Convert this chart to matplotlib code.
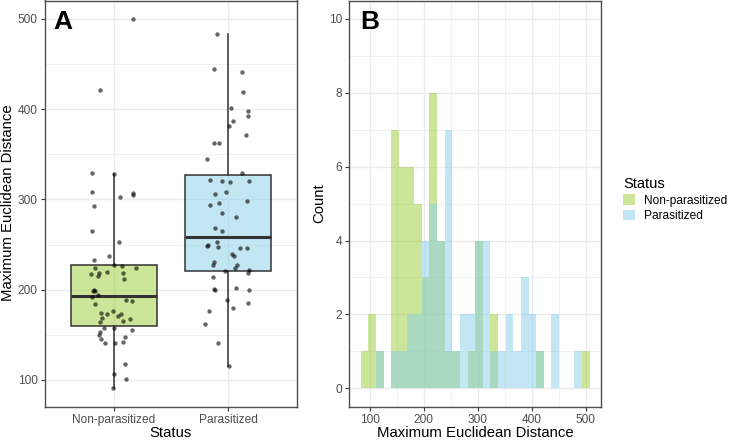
import numpy as np
import matplotlib
matplotlib.use("Agg")
import matplotlib.pyplot as plt
from matplotlib.patches import Patch
from matplotlib.ticker import MultipleLocator

plt.rcParams['font.family'] = ['Liberation Sans', 'DejaVu Sans']

# ---------------- data ----------------
categories = ["Non-parasitized", "Parasitized"]

nonpar_values = [500, 420.8, 329.8, 328.7, 308.1, 302.2, 306.6, 305.2, 292.3, 265.0,
                 252.5, 237.3, 233.3, 227.4, 226.7, 224.0, 224.0, 217.0, 218.9, 219.6,
                 214.9, 218.6, 211.5, 199.8, 198.2, 199.0, 191.7, 193.5, 188.7, 187.6,
                 184.6, 176.6, 173.6, 172.5, 172.9, 170.7, 168.5, 167.4, 164.4, 165.2,
                 157.5, 157.5, 154.8, 153.1, 149.7, 147.8, 145.3, 142.3, 140.9, 140.9,
                 117.2, 106.2, 101.4, 90.7]
nonpar_jitter = [0.166, -0.122, -0.19, 0.0, -0.192, 0.058, 0.166, 0.166, -0.172, -0.19,
                 0.05, -0.044, -0.172, 0.006, 0.07, -0.163, 0.195, -0.195, -0.131, -0.061,
                 -0.14, 0.085, 0.093, -0.175, -0.184, -0.165, -0.192, -0.137, 0.105, 0.157,
                 -0.163, -0.003, -0.114, -0.055, 0.067, 0.041, -0.099, 0.146, -0.12, 0.082,
                 -0.087, 0.0, 0.16, -0.12, -0.131, 0.096, -0.108, 0.079, -0.073, 0.012,
                 0.102, 0.006, 0.111, -0.006]

par_values = [483.4, 444.4, 441.4, 418.6, 401.3, 398.3, 392.4, 387.3, 381.0, 371.4,
              362.9, 362.2, 344.5, 329.8, 321.0, 320.6, 319.1, 320.2, 308.4, 305.9,
              297.7, 293.7, 296.5, 285.2, 280.1, 268.0, 265.3, 249.9, 248.4, 252.4,
              247.6, 246.6, 245.8, 239.2, 237.0, 230.4, 227.4, 227.1, 223.5, 222.3,
              217.9, 220.1, 214.1, 200.5, 200.1, 202.0, 199.8, 188.0, 185.4, 179.2,
              176.6, 161.5, 140.9, 115.8]
par_jitter = [-0.093, -0.122, 0.125, 0.128, 0.029, 0.172, 0.175, 0.047, 0.006, 0.155,
              -0.082, -0.125, -0.184, 0.122, -0.155, -0.052, 0.017, 0.181, -0.015, -0.117,
              0.163, -0.155, -0.079, -0.055, 0.067, -0.117, -0.052, -0.178, -0.184, -0.096,
              -0.087, 0.105, 0.166, 0.038, 0.052, -0.125, -0.134, 0.076, 0.061, 0.187,
              0.178, -0.023, -0.131, -0.125, -0.114, 0.073, 0.181, -0.006, 0.172, 0.044,
              -0.166, -0.198, -0.085, 0.009]

n_bins = 30
green = "#9ACD32"
blue = "#87CEEB"
alpha = 0.5

# ---------------- figure ----------------
W, H = 729, 440
fig = plt.figure(figsize=(W / 100, H / 100), dpi=100)


def frac_rect(x0, x1, y0, y1):
    return [x0 / W, 1 - y1 / H, (x1 - x0) / W, (y1 - y0) / H]


axA = fig.add_axes(frac_rect(45, 296.6, 0.5, 406.7))
axB = fig.add_axes(frac_rect(349.3, 601.0, 0.5, 406.7))

grid_c = "#EBEBEB"
border_c = "#4D4D4D"
tick_c = "#333333"
label_c = "#4D4D4D"


def style(ax):
    ax.set_axisbelow(True)
    ax.grid(True, which="major", color=grid_c, lw=1.0)
    ax.grid(True, which="minor", color=grid_c, lw=0.5)
    for s in ax.spines.values():
        s.set_color(border_c)
        s.set_linewidth(1.0)
    ax.tick_params(which="major", length=3.0, width=0.8, color=tick_c,
                   labelcolor=label_c, labelsize=8.6, pad=2.2)
    ax.tick_params(which="minor", length=0)


# ---- Panel A: boxplot + jitter ----
groups = [np.array(nonpar_values), np.array(par_values)]
jit = [np.array(nonpar_jitter), np.array(par_jitter)]
fills = [green, blue]

bp = axA.boxplot(groups, positions=[1, 2], widths=0.75, whis=1.5,
                 showfliers=False, patch_artist=True,
                 medianprops=dict(color="#333333", lw=2.2),
                 boxprops=dict(edgecolor="#333333", lw=1.1),
                 whiskerprops=dict(color="#333333", lw=1.1),
                 capprops=dict(lw=0))
for patch, c in zip(bp["boxes"], fills):
    patch.set_facecolor(matplotlib.colors.to_rgba(c, alpha))
    patch.set_zorder(2)

for i, (vals, dx) in enumerate(zip(groups, jit)):
    axA.scatter(i + 1 + dx, vals, s=10, color="black", alpha=0.6,
                linewidths=0, zorder=4)

allv = np.concatenate(groups)
lo, hi = allv.min(), allv.max()
pad = 0.05 * (hi - lo)
axA.set_ylim(lo - pad, hi + pad)
axA.set_xlim(0.4, 2.6)
axA.set_xticks([1, 2])
axA.set_xticklabels(categories)
axA.yaxis.set_major_locator(MultipleLocator(100))
axA.yaxis.set_minor_locator(MultipleLocator(50))
style(axA)
axA.text(0.032, 0.9287, "A", transform=axA.transAxes, fontsize=19,
         fontweight="bold", ha="left", va="baseline", color="black")

# ---- Panel B: overlaid histograms ----
w = (hi - lo) / (n_bins - 1)
edges = lo - w / 2 + w * np.arange(n_bins + 1)
centers = (edges[:-1] + edges[1:]) / 2
for vals, c in zip(groups, fills):
    counts, _ = np.histogram(vals, bins=edges)
    axB.bar(centers, counts, width=w, color=c, alpha=alpha, linewidth=0, zorder=2)

span = edges[-1] - edges[0]
axB.set_xlim(edges[0] - 0.05 * span, edges[-1] + 0.05 * span)
axB.set_ylim(-0.5, 10.5)
axB.set_xticks([100, 200, 300, 400, 500])
axB.xaxis.set_minor_locator(MultipleLocator(50))
axB.set_yticks([0, 2, 4, 6, 8, 10])
axB.yaxis.set_minor_locator(MultipleLocator(1))
style(axB)
axB.text(0.042, 0.9287, "B", transform=axB.transAxes, fontsize=19,
         fontweight="bold", ha="left", va="baseline", color="black")

# ---- axis titles ----
tsize = 10.7
fig.text(8 / W, 1 - 203 / H, "Maximum Euclidean Distance", rotation=90,
         ha="center", va="center", fontsize=tsize)
fig.text(170.8 / W, 1 - 433 / H, "Status", ha="center", va="center", fontsize=tsize)
fig.text(319 / W, 1 - 203 / H, "Count", rotation=90,
         ha="center", va="center", fontsize=tsize)
fig.text(475 / W, 1 - 433 / H, "Maximum Euclidean Distance", ha="center",
         va="center", fontsize=tsize)

# ---- legend ----
handles = [Patch(facecolor=matplotlib.colors.to_rgba(c, alpha), edgecolor="none")
           for c in fills]
leg = fig.legend(handles, categories, title="Status", loc="upper left",
                 bbox_to_anchor=(621 / W, 1 - 175 / H), frameon=False,
                 fontsize=8.6, title_fontsize=10.5, handlelength=1.0,
                 handleheight=1.0, handletextpad=0.75, labelspacing=0.25,
                 borderpad=0.2, borderaxespad=0)
leg._legend_box.align = "left"

fig.savefig("out.png", dpi=100)
